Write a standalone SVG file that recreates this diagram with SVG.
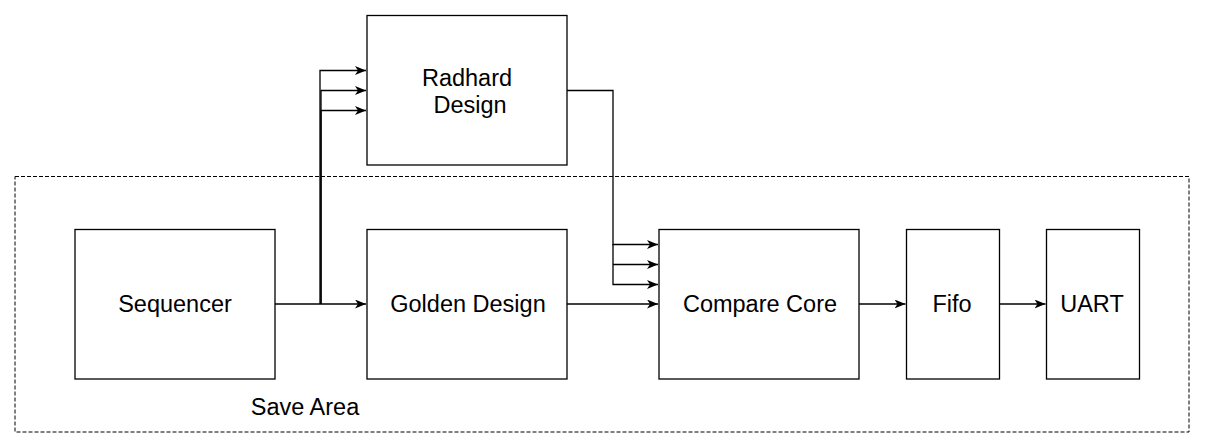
<svg xmlns="http://www.w3.org/2000/svg" width="1205" height="447" viewBox="0 0 1205 447">
<style>
.box{fill:#fff;stroke:#000;stroke-width:1.3}
.lbl{font-family:"Liberation Sans",Arial,sans-serif;font-size:23.5px;fill:#000;text-anchor:middle}
.wire{fill:none;stroke:#000;stroke-width:1.3}
</style>
<defs>
<marker id="arr" viewBox="0 0 11 9" refX="11" refY="4.5" markerWidth="11" markerHeight="9" markerUnits="userSpaceOnUse" orient="auto">
<path d="M0,0 L11,4.5 L0,9 L3,4.5 Z" fill="#000"/>
</marker>
</defs>
<rect id="save-area" x="15" y="176.5" width="1174" height="255.5" fill="none" stroke="#000" stroke-width="1" stroke-dasharray="4,2"/>
<text class="lbl" x="305" y="415">Save Area</text>
<g id="sequencer"><rect class="box" x="75" y="229.5" width="200" height="149.5"/><text class="lbl" x="175" y="312">Sequencer</text></g>
<g id="radhard"><rect class="box" x="367" y="15.5" width="200" height="149.5"/><text class="lbl" x="467" y="86">Radhard</text><text class="lbl" x="470" y="113">Design</text></g>
<g id="golden"><rect class="box" x="367" y="229.5" width="200" height="149.5"/><text class="lbl" x="468" y="312">Golden Design</text></g>
<g id="compare"><rect class="box" x="659" y="229.5" width="200" height="149.5"/><text class="lbl" x="760" y="312">Compare Core</text></g>
<g id="fifo"><rect class="box" x="906.5" y="229.5" width="93" height="149.5"/><text class="lbl" x="952" y="312">Fifo</text></g>
<g id="uart"><rect class="box" x="1046.5" y="229.5" width="93" height="149.5"/><text class="lbl" x="1092" y="312">UART</text></g>
<g id="connectors">
<path class="wire" d="M275,304 L366,304" marker-end="url(#arr)"/>
<path class="wire" d="M320,304 L320,70.5 L366,70.5" marker-end="url(#arr)"/>
<path class="wire" d="M321,304 L321,90.5 L366,90.5" marker-end="url(#arr)"/>
<path class="wire" d="M321,304 L321,110.5 L366,110.5" marker-end="url(#arr)"/>
<path class="wire" d="M567,90.5 L613,90.5 L613,244.5 L658,244.5" marker-end="url(#arr)"/>
<path class="wire" d="M613,264.5 L658,264.5" marker-end="url(#arr)"/>
<path class="wire" d="M613,244 L613,284.5 L658,284.5" marker-end="url(#arr)"/>
<path class="wire" d="M567,304 L658,304" marker-end="url(#arr)"/>
<path class="wire" d="M859,304 L905.5,304" marker-end="url(#arr)"/>
<path class="wire" d="M999.5,304 L1045.5,304" marker-end="url(#arr)"/>
</g>
</svg>
